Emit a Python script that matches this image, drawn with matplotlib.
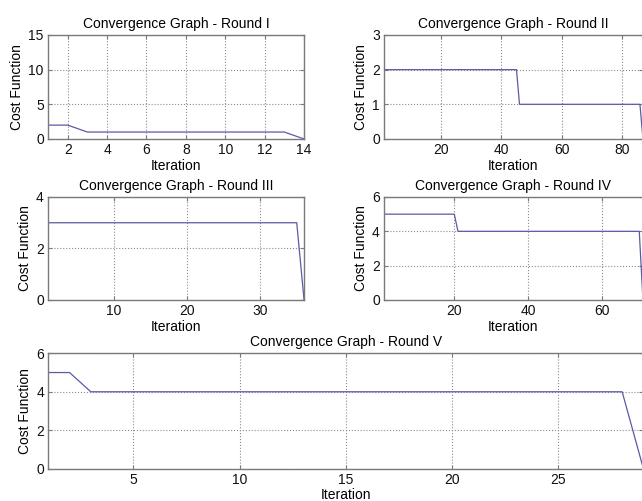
import matplotlib
matplotlib.use("Agg")
import matplotlib.pyplot as plt
import numpy as np

plt.rcParams['font.family'] = ['Liberation Sans', 'DejaVu Sans']
plt.rcParams['font.size'] = 10

# cost function per iteration
round1 = [2, 2] + [1] * 11 + [0]
round2 = [2] * 45 + [1] * 41 + [0]
round3 = [3] * 35 + [0]
round4 = [5] * 20 + [4] * 50 + [0]
round5 = [5, 5] + [4] * 26 + [0]

titles = ['Round I', 'Round II', 'Round III', 'Round IV', 'Round V']
series = [round1, round2, round3, round4, round5]
yticks = [[0, 5, 10, 15], [0, 1, 2, 3], [0, 2, 4], [0, 2, 4, 6], [0, 2, 4, 6]]
xticks = [list(range(2, 15, 2)), [20, 40, 60, 80], [10, 20, 30], [20, 40, 60], [5, 10, 15, 20, 25]]

# axes boxes in figure fractions [left, bottom, width, height]
boxes = [
    [0.0748, 0.7226, 0.3988, 0.2076],
    [0.5981, 0.7226, 0.4034, 0.2076],
    [0.0748, 0.4012, 0.3988, 0.2056],
    [0.5981, 0.4012, 0.4034, 0.2056],
    [0.0752, 0.0645, 0.9270, 0.2303],
]

line_color = '#5a5aa6'
spine_color = '#7a7a7a'

fig = plt.figure(figsize=(6.42, 5.01), dpi=100)

for box, name, vals, yt, xt in zip(boxes, titles, series, yticks, xticks):
    ax = fig.add_axes(box)
    x = np.arange(1, len(vals) + 1)
    ax.plot(x, vals, color=line_color, lw=0.9)
    ax.set_xlim(1, len(vals))
    ax.set_ylim(yt[0], yt[-1])
    ax.set_xticks(xt)
    ax.set_yticks(yt)
    ax.grid(True, ls=':', color='#8c8c8c', lw=0.8)
    for s in ax.spines.values():
        s.set_color(spine_color)
        s.set_linewidth(1.0)
    ax.tick_params(direction='in', top=True, right=True, length=3,
                   color=spine_color, labelcolor='#111111', labelsize=10, pad=3)
    ax.set_title('Convergence Graph - ' + name, fontsize=10, pad=5)
    ax.set_xlabel('Iteration', fontsize=10, labelpad=1)
    ax.set_ylabel('Cost Function', fontsize=10, labelpad=3)

fig.savefig('out.png', dpi=100)
